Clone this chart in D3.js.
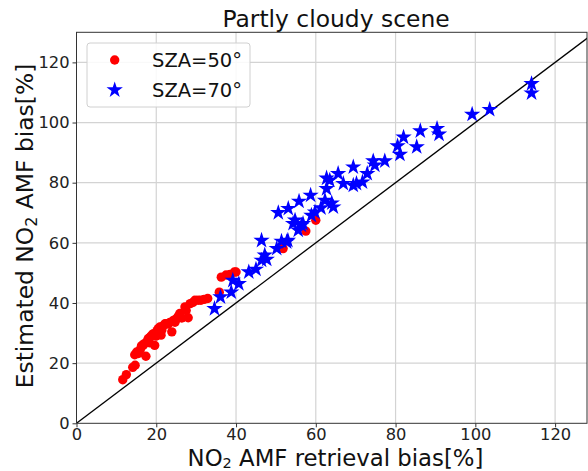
<!DOCTYPE html>
<html><head><meta charset="utf-8">
<script src="https://cdn.jsdelivr.net/npm/d3@7"></script>
<style>
body{margin:0;background:#fff;}
svg{display:block;font-family:"DejaVu Sans",sans-serif;}
</style></head>
<body><svg id="c" width="588" height="471"></svg>
<script>
// ---- data ----
const sza50_x = [11.6,12.5,14.1,14.7,14.6,15.1,15.5,16.0,16.3,16.7,17.0,17.4,17.8,18.0,18.3,18.6,19.0,19.3,19.6,19.9,20.2,20.5,20.9,21.2,21.4,21.8,22.2,22.6,23.0,23.4,23.9,24.3,24.7,25.1,25.5,25.9,26.4,27.2,27.5,28.0,28.5,29.2,29.7,30.5,31.2,32.0,32.9,35.8,36.3,37.5,38.5,40.0,39.6,51.8,57.5,60.0];
const sza50_y = [14.5,16.2,18.6,19.3,22.8,23.7,23.2,24.5,25.8,25.9,26.5,22.3,27.4,28.2,26.8,28.9,29.4,29.8,25.9,29.0,30.8,31.5,32.0,29.3,31.0,32.5,33.1,33.1,33.0,33.5,30.4,34.2,33.6,34.8,35.6,36.5,35.0,38.7,37.5,35.1,39.8,40.2,40.9,40.9,40.9,41.2,41.5,43.6,48.6,49.3,49.5,50.3,50.3,58.1,63.9,67.5];
const sza70_x = [34.6,36.1,38.8,39.2,40.7,43.2,45.0,46.4,46.4,47.2,47.7,50.2,51.4,53.0,52.7,50.6,53.1,55.8,58.7,54.3,54.8,56.4,55.6,56.8,58.9,59.8,61.3,64.0,64.4,62.3,62.7,62.7,63.5,65.6,69.4,66.9,69.4,70.2,71.7,72.9,74.4,74.8,77.3,81.1,80.5,82.0,85.3,86.2,90.4,90.9,99.2,103.6,114.1,114.1];
const sza70_y = [38.1,42.0,43.6,47.5,46.4,50.3,51.2,54.2,60.8,55.9,54.5,58.1,60.5,60.8,60.3,70.0,71.4,73.8,75.8,66.4,67.5,65.8,64.2,66.4,69.1,70.2,71.6,73.2,71.9,74.1,78.0,81.5,80.8,83.0,85.2,79.7,79.1,79.7,80.2,83.0,87.2,85.8,87.2,89.4,92.2,95.1,91.9,97.2,98.0,96.1,102.7,104.3,112.9,109.8];
const xTicks = [0,20,40,60,80,100,120];
const yTicks = [0,20,40,60,80,100,120];
const legendLabels = ["SZA=50°","SZA=70°"];
const titleText = "Partly cloudy scene";

// ---- layout ----
const svg = d3.select("#c");
const L = 76.5, R = 587, T = 32.3, B = 423.3;
const x = d3.scaleLinear().domain([0,128]).range([L,R]);
const y = d3.scaleLinear().domain([0,130]).range([B,T]);

svg.append("defs").append("clipPath").attr("id","clip")
  .append("rect").attr("x",L).attr("y",T).attr("width",R-L).attr("height",B-T);

// grid
const g = svg.append("g");
g.selectAll(".gx").data(xTicks.filter(d=>d>0)).enter().append("line")
  .attr("x1",d=>x(d)).attr("x2",d=>x(d)).attr("y1",T).attr("y2",B)
  .attr("stroke","#d3d3d3").attr("stroke-width",1.2);
g.selectAll(".gy").data(yTicks.filter(d=>d>0)).enter().append("line")
  .attr("y1",d=>y(d)).attr("y2",d=>y(d)).attr("x1",L).attr("x2",R)
  .attr("stroke","#d3d3d3").attr("stroke-width",1.2);

// 1:1 line
svg.append("line").attr("clip-path","url(#clip)")
  .attr("x1",x(0)).attr("y1",y(0)).attr("x2",x(130)).attr("y2",y(130))
  .attr("stroke","#000").attr("stroke-width",1.3);

// red circles
const plot = svg.append("g").attr("clip-path","url(#clip)");
plot.selectAll(".r").data(sza50_x.map((v,i)=>[v,sza50_y[i]])).enter().append("circle")
  .attr("cx",d=>x(d[0])).attr("cy",d=>y(d[1])).attr("r",4.7).attr("fill","#ff0000");

// blue stars
const starSym = d3.symbol().type(d3.symbolStar).size(8.6*8.6/0.8908130915292852);
plot.selectAll(".s").data(sza70_x.map((v,i)=>[v,sza70_y[i]])).enter().append("path")
  .attr("d",starSym).attr("transform",d=>`translate(${x(d[0])},${y(d[1])})`)
  .attr("fill","#0000ff");

// axes
const xAxis = svg.append("g").attr("transform",`translate(0,${B})`)
  .call(d3.axisBottom(x).tickValues(xTicks).tickSize(4).tickPadding(1.5).tickFormat(d3.format("d")));
const yAxis = svg.append("g").attr("transform",`translate(${L},0)`)
  .call(d3.axisLeft(y).tickValues(yTicks).tickSize(4).tickPadding(3).tickFormat(d3.format("d")));
[xAxis,yAxis].forEach(a=>{
  a.selectAll("text").attr("font-size",16.3).attr("font-family","DejaVu Sans").attr("fill","#222");
  a.selectAll("line").attr("stroke","#333");
  a.select(".domain").remove();
});
// frame
svg.append("rect").attr("x",L).attr("y",T).attr("width",R-L).attr("height",B-T)
  .attr("fill","none").attr("stroke","#333").attr("stroke-width",1);

// title
svg.append("text").attr("x",336).attr("y",27).attr("text-anchor","middle")
  .attr("font-size",23.4).attr("fill","#111").text(titleText);

// x label
const xl = svg.append("text").attr("x",335.5).attr("y",465.5).attr("text-anchor","middle")
  .attr("font-size",22.8).attr("fill","#111");
xl.append("tspan").text("NO");
xl.append("tspan").attr("font-size",14.5).attr("dy",2).text("2");
xl.append("tspan").attr("dy",-2).text(" AMF retrieval bias[%]");

// y label
const yl = svg.append("text").attr("transform",`translate(33,226) rotate(-90)`)
  .attr("text-anchor","middle").attr("font-size",23.4).attr("fill","#111");
yl.append("tspan").text("Estimated NO");
yl.append("tspan").attr("font-size",16).attr("dy",4).text("2");
yl.append("tspan").attr("dy",-4).text(" AMF bias[%]");

// legend
const lg = svg.append("g");
lg.append("rect").attr("x",87).attr("y",43).attr("width",163).attr("height",64).attr("rx",3)
  .attr("fill","rgba(255,255,255,0.85)").attr("stroke","#d0d0d0").attr("stroke-width",1);
lg.append("circle").attr("cx",114.7).attr("cy",60).attr("r",4.7).attr("fill","#ff0000");
lg.append("path").attr("d",starSym).attr("transform","translate(114.7,90)").attr("fill","#0000ff");
lg.selectAll(".lt").data(legendLabels).enter().append("text")
  .attr("x",152).attr("y",(d,i)=>60+i*30+7).attr("font-size",19.5).attr("fill","#111").text(d=>d);
</script></body></html>
